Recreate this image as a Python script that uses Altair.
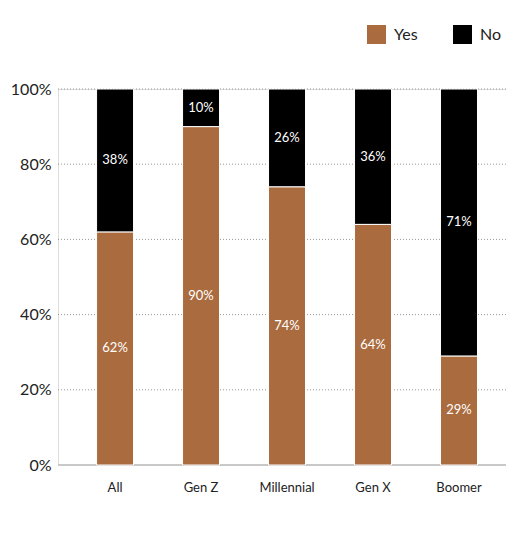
import altair as alt
import pandas as pd

groups = ["All", "Gen Z", "Millennial", "Gen X", "Boomer"]
yes_vals = [62, 90, 74, 64, 29]
no_vals = [38, 10, 26, 36, 71]
answers = ["Yes", "No"]
colors = ["#AA6B3E", "#000000"]
y_ticks = [0, 20, 40, 60, 80, 100]

rows = []
for g, y, n in zip(groups, yes_vals, no_vals):
    rows.append({"group": g, "answer": "Yes", "value": y, "ord": 0})
    rows.append({"group": g, "answer": "No", "value": n, "ord": 1})
df = pd.DataFrame(rows)
grid_df = pd.DataFrame({"v": y_ticks})

FONT = "Lato"

x_enc = alt.X("group:N", sort=groups, title=None,
              scale=alt.Scale(paddingInner=0.57, paddingOuter=0.39, align=0.575),
              axis=alt.Axis(labelAngle=0, ticks=False, domain=False, grid=False,
                            labelFontSize=13, labelColor="#222", labelPadding=16,
                            labelFont=FONT))
y_scale = alt.Scale(domain=[0, 100])

grid = alt.Chart(grid_df).transform_filter("datum.v > 0").mark_rule(
    color="#999", strokeDash=[1, 2], strokeWidth=1
).encode(
    y=alt.Y("v:Q", scale=y_scale),
    x=alt.value(0), x2=alt.value(456)
)

base_rule = alt.Chart(grid_df).transform_filter("datum.v == 0").mark_rule(
    color="#c8c8c8", strokeWidth=2
).encode(
    y=alt.Y("v:Q", scale=y_scale),
    x=alt.value(0), x2=alt.value(456)
)

top_rule = alt.Chart(grid_df).transform_filter("datum.v == 0").mark_rule(
    color="#c8c8c8", strokeWidth=2
).encode(
    y=alt.value(-84), x=alt.value(-53), x2=alt.value(456)
)

bars = alt.Chart(df).mark_bar(stroke="white", strokeWidth=1).encode(
    x=x_enc,
    y=alt.Y("value:Q", stack="zero", scale=y_scale, title=None,
            axis=alt.Axis(values=y_ticks, labelExpr="datum.value + '%'",
                          ticks=False, domain=False, grid=False,
                          labelFontSize=16, labelColor="#222", labelPadding=7,
                          labelFont=FONT)),
    color=alt.Color("answer:N", sort=answers,
                    scale=alt.Scale(domain=answers, range=colors),
                    legend=alt.Legend(title=None, orient="none", direction="horizontal",
                                      legendX=309, legendY=-64,
                                      symbolType="square", symbolSize=361,
                                      symbolStrokeWidth=0, symbolOpacity=1,
                                      labelFontSize=16, labelFont=FONT,
                                      labelColor="#222", labelOffset=8,
                                      columnPadding=35)),
    order=alt.Order("ord:Q")
)

labels = alt.Chart(df).transform_stack(
    stack="value", groupby=["group"], as_=["y0", "y1"],
    sort=[alt.SortField("ord", "ascending")]
).transform_calculate(
    mid="(datum.y0 + datum.y1) / 2",
    lab="datum.value + '%'"
).mark_text(color="white", fontSize=13, font=FONT).encode(
    x=alt.X("group:N", sort=groups),
    y=alt.Y("mid:Q", scale=y_scale),
    text="lab:N"
)

chart = alt.layer(grid, base_rule, top_rule, bars, labels).properties(
    width=448, height=376,
    autosize=alt.AutoSizeParams(type="none"),
    padding={"left": 50, "top": 81, "right": 0, "bottom": 60}
).configure_view(stroke=None).configure(font=FONT)

chart.save("out.html", embed_options={"renderer": "svg", "actions": False})
